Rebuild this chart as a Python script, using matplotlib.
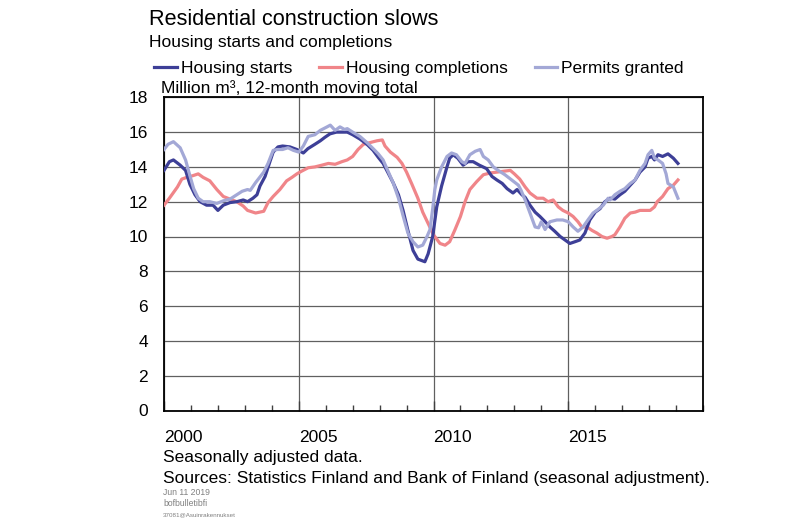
import matplotlib
matplotlib.use("Agg")
import matplotlib.pyplot as plt
from matplotlib.ticker import MultipleLocator, FixedLocator

plt.rcParams['font.family'] = ['Liberation Sans', 'DejaVu Sans']

starts_x = [2000.0, 2000.2, 2000.35, 2000.6, 2000.8, 2000.96, 2001.15, 2001.34, 2001.58, 2001.82,
            2002.0, 2002.2, 2002.45, 2002.7, 2002.94, 2003.1, 2003.3, 2003.45, 2003.56, 2003.75,
            2003.93, 2004.05, 2004.23, 2004.4, 2004.67, 2004.93, 2005.17, 2005.34, 2005.6, 2005.8,
            2005.97, 2006.16, 2006.4, 2006.65, 2006.8, 2007.0, 2007.27, 2007.53, 2007.76, 2007.95,
            2008.13, 2008.3, 2008.5, 2008.7, 2008.87, 2009.05, 2009.24, 2009.42, 2009.68, 2009.8,
            2009.97, 2010.12, 2010.3, 2010.5, 2010.6, 2010.73, 2010.9, 2011.1, 2011.28, 2011.47,
            2011.7, 2011.97, 2012.17, 2012.35, 2012.55, 2012.73, 2012.95, 2013.1, 2013.28, 2013.4,
            2013.58, 2013.77, 2013.95, 2014.14, 2014.32, 2014.5, 2014.7, 2014.88, 2015.06, 2015.25,
            2015.43, 2015.62, 2015.8, 2016.0, 2016.18, 2016.36, 2016.55, 2016.73, 2016.92, 2017.1,
            2017.3, 2017.48, 2017.66, 2017.85, 2017.96, 2018.1, 2018.2, 2018.33, 2018.5, 2018.7,
            2018.9, 2019.07]
starts_y = [13.8, 14.3, 14.4, 14.1, 13.8, 13.0, 12.4, 12.0, 11.8, 11.8,
            11.5, 11.8, 11.95, 12.0, 12.1, 12.0, 12.2, 12.4, 12.9, 13.45,
            14.3, 14.85, 15.15, 15.2, 15.15, 15.0, 14.8, 15.05, 15.3, 15.5,
            15.7, 15.9, 16.0, 16.0, 16.0, 15.85, 15.6, 15.3, 14.95, 14.55,
            14.2, 13.7, 13.1, 12.4, 11.5, 10.35, 9.2, 8.7, 8.55, 9.0,
            10.0, 11.7, 12.9, 14.0, 14.5, 14.7, 14.5, 14.1, 14.3, 14.3,
            14.1, 13.9, 13.45, 13.25, 13.05, 12.75, 12.5, 12.7, 12.4, 12.25,
            11.8, 11.4, 11.15, 10.85, 10.55, 10.3, 10.0, 9.8, 9.6, 9.7,
            9.8, 10.2, 10.95, 11.4, 11.6, 12.0, 12.2, 12.15, 12.4, 12.6,
            12.95, 13.25, 13.7, 14.0, 14.5, 14.6, 14.4, 14.7, 14.6, 14.75,
            14.5, 14.2]

completions_x = [2000.0, 2000.2, 2000.5, 2000.66, 2000.85, 2001.08, 2001.27, 2001.45, 2001.7, 2001.96,
                 2002.2, 2002.45, 2002.7, 2002.94, 2003.1, 2003.4, 2003.7, 2003.86, 2004.05, 2004.3,
                 2004.55, 2004.75, 2004.93, 2005.1, 2005.35, 2005.6, 2005.86, 2006.1, 2006.35, 2006.6,
                 2006.8, 2007.0, 2007.2, 2007.4, 2007.65, 2007.9, 2008.1, 2008.2, 2008.4, 2008.65,
                 2008.83, 2009.0, 2009.2, 2009.42, 2009.6, 2009.8, 2010.0, 2010.24, 2010.43, 2010.6,
                 2010.8, 2011.0, 2011.17, 2011.35, 2011.6, 2011.85, 2012.1, 2012.35, 2012.6, 2012.85,
                 2013.0, 2013.2, 2013.4, 2013.58, 2013.84, 2014.07, 2014.25, 2014.44, 2014.63, 2014.8,
                 2015.0, 2015.18, 2015.36, 2015.5, 2015.7, 2015.88, 2016.06, 2016.25, 2016.44, 2016.62,
                 2016.73, 2016.92, 2017.1, 2017.3, 2017.48, 2017.66, 2017.85, 2018.04, 2018.2, 2018.3,
                 2018.5, 2018.7, 2018.9, 2019.07]
completions_y = [11.8, 12.2, 12.85, 13.3, 13.4, 13.5, 13.6, 13.4, 13.2, 12.7,
                 12.3, 12.15, 12.0, 11.75, 11.5, 11.35, 11.45, 11.95, 12.3, 12.7,
                 13.2, 13.4, 13.6, 13.75, 13.95, 14.0, 14.1, 14.2, 14.15, 14.3,
                 14.4, 14.6, 15.0, 15.3, 15.4, 15.5, 15.55, 15.2, 14.85, 14.55,
                 14.2, 13.7, 13.0, 12.2, 11.4, 10.75, 10.1, 9.6, 9.5, 9.7,
                 10.4, 11.15, 12.0, 12.7, 13.15, 13.55, 13.65, 13.7, 13.75, 13.8,
                 13.6, 13.3, 12.85, 12.5, 12.2, 12.2, 12.0, 12.1, 11.7, 11.5,
                 11.35, 11.15, 10.85, 10.55, 10.55, 10.35, 10.2, 10.0, 9.9, 10.0,
                 10.1, 10.55, 11.05, 11.35, 11.4, 11.5, 11.5, 11.5, 11.7, 12.0,
                 12.3, 12.75, 12.95, 13.25]

permits_x = [2000.0, 2000.15, 2000.35, 2000.6, 2000.8, 2000.96, 2001.1, 2001.27, 2001.45, 2001.7,
             2001.96, 2002.2, 2002.45, 2002.7, 2002.9, 2003.1, 2003.2, 2003.4, 2003.7, 2003.86,
             2004.05, 2004.2, 2004.4, 2004.6, 2004.8, 2005.0, 2005.17, 2005.35, 2005.6, 2005.8,
             2006.05, 2006.17, 2006.35, 2006.53, 2006.7, 2006.8, 2007.0, 2007.27, 2007.53, 2007.76,
             2007.95, 2008.13, 2008.3, 2008.5, 2008.7, 2008.87, 2009.05, 2009.24, 2009.42, 2009.6,
             2009.76, 2009.87, 2009.97, 2010.05, 2010.12, 2010.3, 2010.5, 2010.67, 2010.85, 2011.05,
             2011.17, 2011.35, 2011.55, 2011.73, 2011.85, 2012.03, 2012.22, 2012.4, 2012.65, 2012.9,
             2013.15, 2013.25, 2013.4, 2013.58, 2013.77, 2013.9, 2014.0, 2014.14, 2014.32, 2014.58,
             2014.8, 2015.0, 2015.18, 2015.36, 2015.55, 2015.73, 2015.92, 2016.1, 2016.3, 2016.48,
             2016.55, 2016.73, 2016.92, 2017.1, 2017.3, 2017.48, 2017.66, 2017.85, 2017.96, 2018.1,
             2018.2, 2018.33, 2018.5, 2018.63, 2018.7, 2018.9, 2019.07]
permits_y = [15.0, 15.3, 15.45, 15.1, 14.4, 13.5, 12.75, 12.2, 12.0, 12.0,
             11.9, 12.05, 12.15, 12.4, 12.6, 12.7, 12.65, 13.1, 13.7, 14.2,
             14.95, 15.0, 15.0, 15.1, 14.95, 14.85, 15.2, 15.75, 15.85, 16.1,
             16.3, 16.4, 16.1, 16.3, 16.15, 16.2, 16.0, 15.75, 15.4, 15.05,
             14.75, 14.4, 13.8, 13.1, 12.2, 11.2, 10.2, 9.7, 9.4, 9.5,
             10.0, 10.4, 11.6, 12.7, 13.25, 14.0, 14.6, 14.8, 14.7, 14.3,
             14.2, 14.7, 14.9, 15.0, 14.6, 14.4, 14.0, 13.8, 13.55, 13.25,
             12.95, 12.65, 12.1, 11.35, 10.55, 10.5, 10.85, 10.4, 10.85, 10.95,
             10.95, 10.85, 10.55, 10.3, 10.55, 10.95, 11.35, 11.55, 11.8, 12.2,
             12.1, 12.4, 12.6, 12.75, 13.05, 13.25, 13.8, 14.2, 14.7, 14.95,
             14.5, 14.4, 14.2, 13.6, 13.05, 12.85, 12.2]

series_labels = ["Housing starts", "Housing completions", "Permits granted"]
year_ticks = [2000, 2005, 2010, 2015]
year_labels = ["2000", "2005", "2010", "2015"]
y_ticks = [0, 2, 4, 6, 8, 10, 12, 14, 16, 18]

c_starts = "#3d3f97"
c_compl = "#f08589"
c_perm = "#a3a8d6"

fig = plt.figure(figsize=(8, 5.23), dpi=100)
ax = fig.add_axes([164/800, 1 - 410.5/523, (703-164)/800, (410.5-97.3)/523])

lw = 2.3
l1, = ax.plot(starts_x, starts_y, color=c_starts, lw=lw, label=series_labels[0], zorder=4)
l2, = ax.plot(completions_x, completions_y, color=c_compl, lw=lw, label=series_labels[1], zorder=3)
l3, = ax.plot(permits_x, permits_y, color=c_perm, lw=lw, label=series_labels[2], zorder=5)

ax.set_xlim(2000, 2020)
ax.set_ylim(0, 18)
ax.set_yticks(y_ticks)
ax.set_yticklabels([str(v) for v in y_ticks], fontsize=12.5)
ax.xaxis.set_major_locator(FixedLocator(year_ticks))
ax.xaxis.set_minor_locator(MultipleLocator(1))
ax.set_xticklabels(year_labels, fontsize=12.5, ha='left')
ax.tick_params(axis='x', which='major', direction='in', length=7, width=1, pad=14, color='#404040')
ax.tick_params(axis='x', which='minor', direction='in', length=4, width=1, color='#404040')
ax.tick_params(axis='y', length=0, pad=11.5)
ax.grid(True, which='major', color='#606060', lw=0.9)
ax.set_axisbelow(True)
for s in ax.spines.values():
    s.set_linewidth(1.3)
    s.set_color('black')

fig.text(149/800, 1 - 25/523, "Residential construction slows", fontsize=15.6, va='baseline', ha='left')
fig.text(149/800, 1 - 47/523, "Housing starts and completions", fontsize=12.5, va='baseline', ha='left')
fig.text(161/800, 1 - 92.5/523, "Million m³, 12-month moving total", fontsize=12.5, va='baseline', ha='left')

leg = fig.legend(handles=[l1, l2, l3], labels=series_labels, loc='lower left',
                 bbox_to_anchor=(154/800, 1 - 76/523), ncol=3, frameon=False, fontsize=12.5,
                 handlelength=1.32, handletextpad=0.22, columnspacing=1.55, borderpad=0,
                 borderaxespad=0)

fig.text(163/800, 1 - 462/523, "Seasonally adjusted data.", fontsize=12.5, va='baseline', ha='left')
fig.text(163/800, 1 - 483/523, "Sources: Statistics Finland and Bank of Finland (seasonal adjustment).",
         fontsize=12.5, va='baseline', ha='left')
fig.text(163/800, 1 - 495/523, "Jun 11 2019", fontsize=6.2, color='#808080', va='baseline', ha='left')
fig.text(163/800, 1 - 505.7/523, "bofbulletibfi", fontsize=6.2, color='#808080', va='baseline', ha='left')
fig.text(163/800, 1 - 516/523, "37081@Asuinrakennukset", fontsize=4.5, color='#808080', va='baseline', ha='left')

fig.savefig("out.png", dpi=100)
